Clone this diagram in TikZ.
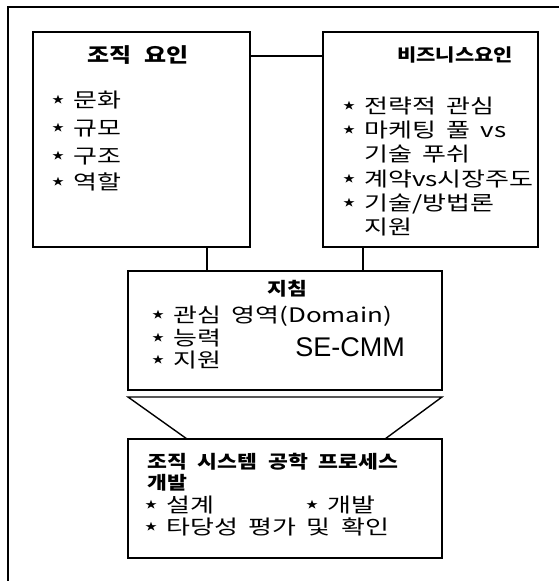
\documentclass[tikz,border=0pt]{standalone}
\usepackage{fontspec}
\setmainfont{Noto Sans CJK KR}[FakeStretch=1.2,WordSpace=2.2]
\newfontfamily\itemfamily{Noto Sans CJK KR}[FakeStretch=1.3,WordSpace=1.8]
\newfontfamily\acronymfont{Liberation Sans}
\newcommand\TitleFont{\fontsize{20}{20}\selectfont\bfseries}
\newcommand\SubTitleFont{\fontsize{18}{18}\selectfont\bfseries}
\newcommand\ItemFont{\itemfamily\fontsize{20}{20}\selectfont}
\newcommand\StarFont{\fontsize{10}{10}\selectfont}
\newcommand\StarItem[4]{%
    \node[star mark] (#1Star) at (#2,#3) {★};
    \node[item line] (#1) at (#2+15,#3) {#4};
}

\begin{document}
\begin{tikzpicture}[x=1pt,y=-1pt,
    factor box/.style={draw, line width=1.8pt, inner sep=0pt, outer sep=0pt},
    box title/.style={inner sep=0pt, font=\TitleFont},
    item line/.style={anchor=west, inner sep=0pt, font=\ItemFont, text height=17pt, text depth=2pt},
    star mark/.style={inner sep=0pt, font=\StarFont},
    link/.style={line width=1.4pt}]
    \useasboundingbox (0,0) rectangle (559,581);
    \draw[line width=1.6pt] (559,7) -- (8,7) -- (8,581);
    % boxes
    \node[factor box, minimum width=217pt, minimum height=215pt] (org) at (141.5,139.5) {};
    \node[factor box, minimum width=215pt, minimum height=215pt] (biz) at (430.5,139.5) {};
    \node[factor box, minimum width=314pt, minimum height=119pt] (guide) at (285,330.5) {};
    \node[factor box, minimum width=314pt, minimum height=119pt] (dev) at (285,498.5) {};
    % links
    \draw[link] ([yshift=-24pt]org.north east) -- ([yshift=-24pt]biz.north west);
    \coordinate (orgFoot) at ([xshift=65.5pt]org.south);
    \coordinate (bizFoot) at ([xshift=-67.5pt]biz.south);
    \draw[link] (orgFoot) -- (orgFoot |- guide.north);
    \draw[link] (bizFoot) -- (bizFoot |- guide.north);
    \draw[link] ([yshift=-7pt]guide.south west) -- ([yshift=-7pt]guide.south east)
        -- ([xshift=-57pt]dev.north east) -- ([xshift=59pt]dev.north west) -- cycle;
    % org
    \node[box title] (orgTitle) at (138,55) {조직 요인};
    \StarItem{orgA}{58}{100}{문화}
    \StarItem{orgB}{58}{128}{규모}
    \StarItem{orgC}{58}{156}{구조}
    \StarItem{orgD}{58}{182}{역할}
    % biz
    \node[box title, font=\fontsize{17.5}{17.5}\selectfont\bfseries] (bizTitle) at (455,55) {비즈니스요인};
    \StarItem{bizA}{349}{106}{전략적 관심}
    \StarItem{bizB}{349}{130}{마케팅 풀 vs}
    \node[item line] (bizB2) at (364,154) {기술 푸쉬};
    \StarItem{bizC}{349}{179}{계약vs시장주도}
    \StarItem{bizD}{349}{203}{기술/방법론}
    \node[item line] (bizD2) at (364,227) {지원};
    % guide
    \node[box title, font=\SubTitleFont] (guideTitle) at (287,289) {지침};
    \StarItem{guideA}{158}{315}{관심 영역(Domain)}
    \StarItem{guideB}{158}{338}{능력}
    \StarItem{guideC}{158}{360}{지원}
    \node[inner sep=0pt, font=\acronymfont\fontsize{27}{27}\selectfont] (cmm) at (350,347) {SE-CMM};
    % dev
    \node[box title, font=\SubTitleFont, anchor=west] (devTitle) at (147,462) {조직 시스템 공학 프로세스};
    \node[box title, font=\SubTitleFont, anchor=west] (devTitleB) at (147,483) {개발};
    \StarItem{devA}{151}{505}{설계}
    \StarItem{devB}{312}{505}{개발}
    \StarItem{devC}{151}{527}{타당성 평가 및 확인}
\end{tikzpicture}
\end{document}
